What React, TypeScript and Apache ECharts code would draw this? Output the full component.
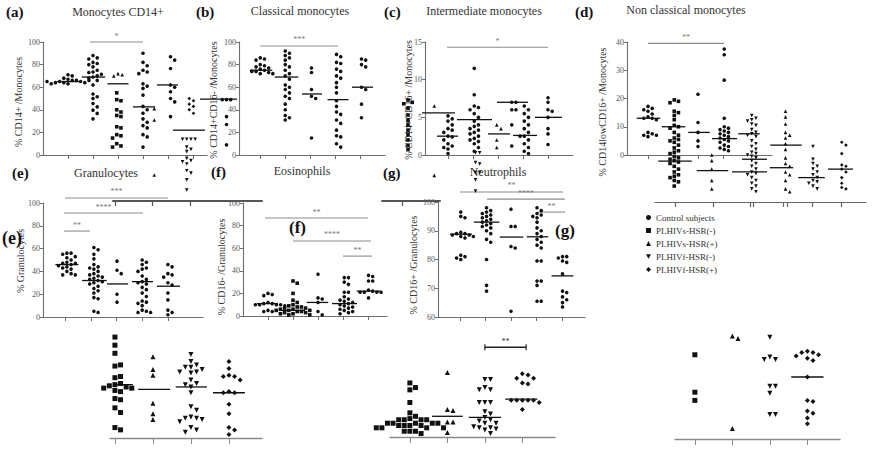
import React, { useEffect, useRef } from 'react';
import * as echarts from 'echarts';

const GROUPS = ['Control subjects', 'PLHIVs-HSR(-)', 'PLHIVs-HSR(+)', 'PLHIVf-HSR(-)', 'PLHIVf-HSR(+)'];
const TITLES = ['Monocytes CD14+', 'Classical monocytes', 'Intermediate monocytes', 'Non classical monocytes', 'Granulocytes', 'Eosinophils', 'Neutrophils'];
const Y_NAMES = ['% CD14+ /Monocytes', '% CD14+CD16- /Monocytes', '% CD14+CD16+ /Monocytes', '% CD14lowCD16+ /Monocytes', '% Granulocytes', '% CD16- /Granulocytes', '% CD16+ /Granulocytes'];
const LETTERS = ['(a)', '(b)', '(c)', '(d)', '(e)', '(f)', '(g)'];

// ---- (a) Monocytes CD14+
const aCtrl = [71, 70, 68, 67, 66, 66, 65, 65, 64, 64, 64, 63, 63, 66, 65];
const aSNeg = [88, 86, 85, 82, 81, 80, 78, 75, 73.5, 73, 71.5, 70, 69, 68, 66, 62, 54, 51.5, 50, 45.6, 42.6, 39.7, 36.8, 32];
const aSPosTri = [72, 71, 70];
const aSPos = [55, 49, 48, 40, 38, 35, 34, 25, 24, 18, 17, 15, 10, 8, 7];
const aFNeg = [90, 82, 79, 75, 73.5, 72, 63, 61, 59, 53, 43, 40, 37, 32, 29, 26, 24, 18, 16, 7];
const aFNegTri = [41, 31, -17.7];
const aFPos = [87, 84, 76.5, 62, 60, 56, 50, 47, 34];
const aExtraDia = [50, 48, 45, 43, 40, 37];
const aExtraInv = [14, 14, 14, 14, 7, 5, 3, -3, -5, -6, -8, -14, -16, -22, -31];
const aMedians = [[1, 65, 0.45], [2.02, 69, 0.47], [3, 63, 0.42], [4.04, 42.6, 0.44], [4.98, 62, 0.42], [5.84, 22, 0.64]];
const aSig = [[1.88, 4.0, 100, '*']];

// ---- (b) Classical monocytes
const bCtrl = [86, 85, 84, 80, 79, 78, 77, 76, 75, 74, 74, 73, 72, 72];
const bSNeg = [92, 90, 88, 86, 84, 80, 78, 75, 72, 70, 67, 62, 60, 58, 55, 52, 50, 45, 40, 35, 33, 31];
const bSPos = [77, 73, 58, 52, 50, 15];
const bFNeg = [89, 87, 82, 81, 76, 74, 70, 68, 64, 60, 55, 48, 43, 38, 36, 31, 28, 22, 17, 16, 10, 7];
const bFPos = [85, 84, 80, 78, 60, 58, 45, 33];
const bExtra = [49, 49, 49, 34, 27, 9];
const bMedians = [[1.03, 75, 0.45], [2.05, 69, 0.47], [3.07, 54, 0.4], [4.11, 49, 0.42], [5.09, 60, 0.42], [-0.67, 49.5, 0.74]];
const bSig = [[1, 4.11, 96.5, '***']];

// ---- (c) Intermediate monocytes
const cCtrl = [5.2, 4.8, 4.5, 4.0, 3.5, 3.3, 3.0, 2.5, 2.4, 2.0, 1.5, 1.2, 1.0, 0.8, 0.2];
const cCtrlTri = [6.5, -2.7];
const cSNeg = [11.5, 8, 6.5, 6.3, 6.0, 5.5, 5, 4.5, 4, 3.8, 3.5, 3.3, 3, 2.8, 2.5, 2.2, 2, 1.8, 1.5, 1, 0.5];
const cSNegInv = [0.3, 0.3, -1.0, -1.2, -2.3, -2.3, -3.3, -4.8];
const cSPos = [4.0, 3.5, 2.0, 1.0];
const cSPos2 = [7.0, 7.0, 6.0, 6.0, 4.0, 1.2];
const cFNeg = [6.5, 6.0, 5.5, 5, 4.5, 4, 3.5, 3, 2.5, 2.5, 2, 1.5, 1, 0.5, 0.2];
const cFPos = [7.6, 7.0, 6.0, 5.8, 5.0, 3.5, 2.8, 1.4];
const cExtra = [7.3, 7.0, 6.8, 6.2, 5.3, 4.6, 4.0, 3.3, 2.7, 2.0, 1.3, 0.7];
const cMedians = [[0.62, 5.6, 0.66], [0.98, 2.5, 0.42], [2.06, 4.7, 0.7], [3.04, 2.8, 0.44], [3.58, 7.0, 0.62], [4.08, 2.6, 0.48], [5.02, 5.0, 0.54]];
const cSig = [[0.96, 5.0, 14.3, '*']];

// ---- (d) Non classical monocytes
const dCtrl = [17.2, 16.5, 16, 15.5, 14.5, 13.5, 13, 13, 12.5, 8, 7.5, 7, 7, 6.5];
const dSNeg = [19.5, 19, 18.5, 15.5, 15, 14, 12.5, 10.5, 10, 9.5, 8, 7, 6, 5.5, 5, 4.5, 3.5, 2.5, 1.5, 1, 0.5, -0.5, -1, -1.5, -2, -2.5, -3, -4, -5, -6, -7, -7.5, -8, -9, -9.5, -11];
const dSPos = [21.5, 11.5, 8, 5, 3];
const dSPosTri = [0, -2, -5, -9, -12];
const dFNeg = [37.5, 35.5, 26.5, 13, 10, 9.5, 9, 8.5, 8, 7.5, 7, 6.5, 6, 5.5, 5, 4.5, 3.5, 3, 2.5, 2, 1.5];
const dCol5 = [14, 13, 12.5, 12, 11, 10.5, 9, 8, 7.5, 7, 6.5, 5, 4, 3, 2, 1, 0.5, 0, -0.5, -1, -2, -3, -4, -5, -6, -6.5, -7, -8, -9, -10, -11, -12, -13];
const dCol6 = [15.5, 13.5, 11, 8, 7, 6, 4, 2, -1, -3, -4, -6, -7, -9, -12, -13];
const dCol7 = [3, -1.5, -3, -4, -5, -6, -7, -8, -9, -9.5, -10, -11, -12];
const dCol8 = [4.5, 3.5, 0.5, -3.5, -4, -5, -6, -8, -10, -11.5, -12];
const dMedians = [[1.02, 13, 0.47], [2.02, 10, 0.47], [2.08, -2.2, 0.67], [3.04, 8, 0.43], [3.58, -5.5, 0.63], [4.06, 5.8, 0.5], [5.04, 7.5, 0.43], [5.26, -1.5, 0.5], [5.06, -6, 0.7], [6.52, 3.5, 0.63], [6.34, -4.5, 0.47], [7.54, -8, 0.53], [8.7, -5, 0.5]];
const dSig = [[1.0, 4.04, 39.5, '**']];

// ---- (e) Granulocytes
const eCtrl = [56, 56, 55, 53, 52, 50, 48, 47, 47, 46, 45, 44, 43, 42, 40, 38, 37, 37];
const eSNeg = [61, 59, 55, 51, 46, 44, 43, 42, 40, 38, 37, 36, 35, 34, 33, 32, 31, 30, 29, 27, 25, 23, 21, 17, 16, 5, 4];
const eSPos = [49, 41, 38, 20, 13];
const eFNeg = [50, 48, 46, 43, 42, 40, 36, 33, 31, 30, 29, 26, 24, 21, 18, 14, 13, 12, 10, 6, 5, 4, 4];
const eFPos = [46, 44, 38, 37, 35, 30, 28, 21, 15, 6, 4, 2];
const eMedians = [[1.07, 46, 0.45], [2.14, 32, 0.48], [3.04, 29, 0.41], [4.01, 31, 0.41], [5.02, 27, 0.45]];
const eSig = [[1.0, 5.0, 104.4, '***'], [0.96, 4.03, 91.2, '****'], [0.96, 1.97, 75.4, '**']];

// ---- (f) Eosinophils
const fCtrl = [20, 19, 18, 12, 11, 11, 10, 10, 10, 10, 9, 5, 4, 4];
const fSNeg = [31, 29, 20, 14, 12, 10, 9, 8, 8, 7, 7, 6, 6, 5, 5, 5, 4, 4, 3, 3, 2, 2, 1, 1];
const fSPos = [37, 16, 15, 12, 4, 1];
const fFNeg = [34, 34, 30, 28, 21, 21, 17, 15, 14, 13, 12, 11, 10, 9, 8, 7, 6, 5, 4, 3, 2];
const fFPos = [36, 35, 31, 31, 23, 22, 21, 21, 21, 21, 16];
const fMedians = [[0.98, 11, 0.42], [1.98, 5, 0.5], [2.98, 12, 0.43], [4.06, 11, 0.5], [5.02, 22, 0.47]];
const fSig = [[0.88, 5.0, 86.7, '**'], [2.0, 5.12, 66.4, '****'], [4.0, 5.16, 53, '**']];

// ---- (g) Neutrophils
const gCtrl = [96.5, 95, 94.5, 89.5, 89, 89, 88.5, 88.5, 88, 88, 87.5, 81.5, 81, 80.5, 80];
const gSNeg = [98, 97, 96.5, 96, 95.5, 95, 94.5, 94, 93.5, 93, 92.5, 92, 91.5, 91, 90, 89, 87, 86, 80, 71, 69];
const gSPos = [97.5, 91.5, 91.5, 84.5, 84, 62];
const gFNeg = [98, 97, 96, 95.5, 95, 94.5, 93, 91, 90, 89, 88, 87, 86, 85, 84, 79.5, 79.5, 72.5, 72.5, 71, 65.5, 65.5];
const gFPos = [81, 81, 80.5, 79.5, 79, 75, 69, 68.5, 67, 66, 65, 63.5];
const gMedians = [[1.04, 88.8, 0.43], [2.04, 93, 0.5], [3.02, 87.8, 0.46], [4.04, 87.9, 0.42], [5.02, 74.3, 0.43]];
const gSig = [[1.0, 5.04, 103.5, '**'], [2.06, 5.12, 101, '****'], [4.06, 5.12, 96.5, '**']];

// ---- bottom-left (unlabelled)
const blSNeg = [87, 80, 73, 62, 63, 52, 53, 46, 47, 45, 44, 43, 43, 41, 40, 34, 33, 26, 22, 9, 7];
const blSPos = [70, 59, 54, 30, 21, 16];
const blFNeg = [72, 66, 63, 61, 61, 59, 57, 57, 56, 50, 47, 46, 44, 39, 27, 24, 18, 17, 17, 16, 14, 9, 7, 5];
const blFPos = [66, 60, 54, 53, 53, 50, 40, 39, 39, 29, 21, 9, 7, 3];
const blMedians = [[1.21, 46, 0.26], [2.03, 42, 0.42], [3.01, 44, 0.41], [4.0, 39, 0.42]];

// ---- bottom-middle (unlabelled)
const bmSNeg = [47, 43, 41, 30, 21, 18, 16, 15, 15, 15, 15, 12, 12, 12, 12, 12, 10, 10, 10, 10, 8, 8, 8, 8, 5, 5, 5, 3];
const bmSPos = [56, 24, 23, 13, 13, 4];
const bmFNeg = [50, 50, 43, 41, 41, 30, 30, 30, 22, 20, 17, 15, 14, 12, 12, 8, 8, 6, 3, 7, 9];
const bmFPos = [55, 54, 51, 51, 47, 46, 32, 32, 32, 32, 32, 30, 24];
const bmMedians = [[2.0, 18, 0.41], [3.0, 17, 0.43], [3.97, 33, 0.43]];
const bmSig = [[3.0, 4.1, 78, '**', 1]];

// ---- bottom-right (unlabelled)
const brSNeg = [72, 40, 33];
const brSPos = [88, 86, 9];
const brFNeg = [87, 70, 68, 68, 45, 45, 39, 21, 21];
const brFPos = [75, 74, 74, 72, 71, 69, 67, 53, 33, 32, 24, 22, 18, 13];
const brMedians = [[4.0, 53, 0.43]];

const SYM: Record<string, string> = {
  c: 'circle',
  s: 'rect',
  t: 'triangle',
  i: 'path://M0,0L10,0L5,9Z',
  d: 'diamond',
};
const LEG_ICONS = ['circle', 'rect', 'triangle', 'path://M0,0L10,0L5,9Z', 'diamond'];
const SERIF = 'Liberation Serif';

type Col = { x: number; v: number[]; s: string; g: number };
type Panel = {
  left: number; top: number; w: number; h: number;
  xMin: number; unit: number;
  yMin: number; yMax: number; yInt?: number; showY: boolean;
  ticks: number[]; cols: Col[]; med: number[][]; sig: any[]; size: number;
  axisColor?: string; axisWidth?: number; tickLen?: number;
};

const PANELS: Panel[] = [
  { left: 43, top: 42, w: 164, h: 113, xMin: 0, unit: 25, yMin: 0, yMax: 100, yInt: 20, showY: true, ticks: [1, 2, 3, 4, 5, 6], size: 3.6,
    cols: [
      { x: 1, v: aCtrl, s: 'c', g: 0 }, { x: 2, v: aSNeg, s: 'c', g: 1 }, { x: 3, v: aSPosTri, s: 't', g: 2 },
      { x: 2.95, v: aSPos, s: 's', g: 2 }, { x: 4, v: aFNeg, s: 'c', g: 3 }, { x: 4.45, v: aFNegTri, s: 't', g: -1 },
      { x: 5.1, v: aFPos, s: 'c', g: 4 }, { x: 5.85, v: aExtraDia, s: 'd', g: -1 }, { x: 5.75, v: aExtraInv, s: 'i', g: -1 },
    ], med: aMedians, sig: aSig },
  { left: 239, top: 42, w: 146, h: 113, xMin: 0.15, unit: 25, yMin: 0, yMax: 100, yInt: 20, showY: true, ticks: [1, 2, 3, 4, 5], size: 3.6,
    cols: [
      { x: 1, v: bCtrl, s: 'c', g: 0 }, { x: 2, v: bSNeg, s: 'c', g: 1 }, { x: 3.05, v: bSPos, s: 'c', g: 2 },
      { x: 4.05, v: bFNeg, s: 'c', g: 3 }, { x: 5.05, v: bFPos, s: 'c', g: 4 }, { x: -0.35, v: bExtra, s: 'c', g: -1 },
    ], med: bMedians, sig: bSig },
  { left: 425, top: 42, w: 148, h: 113, xMin: 0.08, unit: 25, yMin: 0, yMax: 15, yInt: 5, showY: true, ticks: [1, 2, 3, 4, 5], size: 3.6,
    cols: [
      { x: 1, v: cCtrl, s: 'c', g: 0 }, { x: 0.45, v: cCtrlTri, s: 't', g: -1 }, { x: 2.05, v: cSNeg, s: 'c', g: 1 },
      { x: 2.1, v: cSNegInv, s: 'i', g: -1 }, { x: 2.95, v: cSPos, s: 't', g: 2 }, { x: 3.55, v: cSPos2, s: 'c', g: 2 },
      { x: 4.05, v: cFNeg, s: 'c', g: 3 }, { x: 5.0, v: cFPos, s: 'c', g: 4 }, { x: -0.6, v: cExtra, s: 's', g: -1 },
    ], med: cMedians, sig: cSig },
  { left: 627, top: 42, w: 145, h: 113, xMin: 0.16, unit: 25, yMin: 0, yMax: 40, yInt: 10, showY: true, ticks: [1, 2, 3, 4], size: 3.6,
    cols: [
      { x: 1, v: dCtrl, s: 'c', g: 0 }, { x: 2.05, v: dSNeg, s: 's', g: 1 }, { x: 3.0, v: dSPos, s: 'c', g: 2 },
      { x: 3.55, v: dSPosTri, s: 't', g: 2 }, { x: 4.05, v: dFNeg, s: 'c', g: 3 }, { x: 5.15, v: dCol5, s: 'i', g: -1 },
      { x: 6.5, v: dCol6, s: 't', g: -1 }, { x: 7.6, v: dCol7, s: 'i', g: -1 }, { x: 8.75, v: dCol8, s: 'd', g: -1 },
    ], med: dMedians, sig: dSig },
  { left: 43, top: 203, w: 160, h: 114, xMin: 0.14, unit: 25.7, yMin: 0, yMax: 100, yInt: 20, showY: true, ticks: [1, 2, 3, 4, 5], size: 3.6,
    cols: [
      { x: 1.07, v: eCtrl, s: 'c', g: 0 }, { x: 2.12, v: eSNeg, s: 'c', g: 1 }, { x: 3.02, v: eSPos, s: 'c', g: 2 },
      { x: 4.0, v: eFNeg, s: 'c', g: 3 }, { x: 5.0, v: eFPos, s: 'c', g: 4 },
    ], med: eMedians, sig: eSig },
  { left: 243, top: 203, w: 144, h: 113, xMin: 0, unit: 25, yMin: 0, yMax: 100, yInt: 20, showY: true, ticks: [1, 2, 3, 4, 5], size: 3.6,
    cols: [
      { x: 1, v: fCtrl, s: 'c', g: 0 }, { x: 2, v: fSNeg, s: 's', g: 1 }, { x: 3, v: fSPos, s: 'c', g: 2 },
      { x: 4.05, v: fFNeg, s: 'c', g: 3 }, { x: 5.02, v: fFPos, s: 'c', g: 4 },
    ], med: fMedians, sig: fSig },
  { left: 438, top: 202, w: 147, h: 115, xMin: 0.137, unit: 25.5, yMin: 60, yMax: 100, yInt: 10, showY: true, ticks: [1, 2, 3, 4, 5], size: 3.6,
    cols: [
      { x: 1.03, v: gCtrl, s: 'c', g: 0 }, { x: 2.04, v: gSNeg, s: 'c', g: 1 }, { x: 3.0, v: gSPos, s: 'c', g: 2 },
      { x: 4.02, v: gFNeg, s: 'c', g: 3 }, { x: 5.02, v: gFPos, s: 'c', g: 4 },
    ], med: gMedians, sig: gSig },
  { left: 110, top: 322, w: 152, h: 116, xMin: 0.87, unit: 38, yMin: 0, yMax: 100, showY: false, ticks: [1, 2, 3, 4], size: 5, axisColor: '#8a8a8a', axisWidth: 1.4, tickLen: 6,
    cols: [
      { x: 1, v: blSNeg, s: 's', g: 1 }, { x: 2, v: blSPos, s: 't', g: 2 }, { x: 3, v: blFNeg, s: 'i', g: 3 }, { x: 4, v: blFPos, s: 'd', g: 4 },
    ], med: blMedians, sig: [] },
  { left: 390, top: 322, w: 165, h: 115, xMin: 0.47, unit: 37.5, yMin: 0, yMax: 100, showY: false, ticks: [1, 2, 3, 4], size: 5, axisColor: '#8a8a8a', axisWidth: 1.4, tickLen: 6,
    cols: [
      { x: 1, v: bmSNeg, s: 's', g: 1 }, { x: 2, v: bmSPos, s: 't', g: 2 }, { x: 3, v: bmFNeg, s: 'i', g: 3 }, { x: 4, v: bmFPos, s: 'd', g: 4 },
    ], med: bmMedians, sig: bmSig },
  { left: 675, top: 322, w: 165, h: 117, xMin: 0.47, unit: 37.5, yMin: 0, yMax: 100, showY: false, ticks: [1, 2, 3, 4], size: 5, axisColor: '#8a8a8a', axisWidth: 1.4, tickLen: 6,
    cols: [
      { x: 1, v: brSNeg, s: 's', g: 1 }, { x: 2, v: brSPos, s: 't', g: 2 }, { x: 3, v: brFNeg, s: 'i', g: 3 }, { x: 4, v: brFPos, s: 'd', g: 4 },
    ], med: brMedians, sig: [] },
];

// stray axis lines of the overlapping panels
const STRAY = [
  { left: 655, top: 150, w: 211, h: 52, ticks: [20, 58, 95, 98, 128, 132, 157, 186], color: '#666', width: 1.2 },
  { left: 113, top: 150, w: 149, h: 51, ticks: [2, 39, 77], color: '#555', width: 2 },
  { left: 382, top: 150, w: 58, h: 51, ticks: [20], color: '#555', width: 2 },
];

function swarm(x: number, vals: number[], xPx: number, yPx: number, d: number) {
  const placed: number[][] = [];
  const out: number[][] = [];
  for (const v of vals) {
    const py = v * yPx;
    let off = 0;
    for (let i = 0; i < 60; i++) {
      const k = i === 0 ? 0 : i % 2 ? (i + 1) / 2 : -i / 2;
      const px = k * d;
      const hit = placed.some((q) => Math.abs(q[0] - px) < d - 0.01 && Math.abs(q[1] - py) < d - 0.01);
      if (!hit) { off = px; break; }
    }
    placed.push([off, py]);
    out.push([x + off / xPx, v]);
  }
  return out;
}

function buildOption() {
  const grid: any[] = [];
  const xAxis: any[] = [];
  const yAxis: any[] = [];
  const series: any[] = [];

  PANELS.forEach((p, i) => {
    const ac = p.axisColor || '#6e6e6e';
    const aw = p.axisWidth || 1.1;
    grid.push({ left: p.left, top: p.top, width: p.w, height: p.h });
    xAxis.push({
      gridIndex: i, type: 'value', min: p.xMin, max: p.xMin + p.w / p.unit,
      axisLine: { show: true, onZero: false, lineStyle: { color: ac, width: aw } },
      axisTick: { show: true, customValues: p.ticks, length: p.tickLen || 4, lineStyle: { color: ac, width: 1 } },
      axisLabel: { show: false }, splitLine: { show: false },
    });
    yAxis.push({
      gridIndex: i, type: 'value', min: p.yMin, max: p.yMax, interval: p.yInt, show: p.showY,
      axisLine: { show: true, onZero: false, lineStyle: { color: ac, width: aw } },
      axisTick: { show: true, length: 3, lineStyle: { color: ac } },
      axisLabel: { fontSize: 8, color: '#555', margin: 3, fontFamily: SERIF },
      splitLine: { show: false },
    });
    const yPx = p.h / (p.yMax - p.yMin);
    p.cols.forEach((c) => {
      series.push({
        type: 'scatter', name: c.g >= 0 ? GROUPS[c.g] : 'other', xAxisIndex: i, yAxisIndex: i,
        symbol: SYM[c.s], symbolSize: p.size, clip: false, silent: true,
        itemStyle: { color: '#111', opacity: 1 },
        data: swarm(c.x, c.v, p.unit, yPx, p.size + 0.6),
      });
    });
    series.push({
      type: 'custom', xAxisIndex: i, yAxisIndex: i, clip: false, silent: true,
      data: p.med.map((m) => [m[0], m[1], m[2]]),
      renderItem: (params: any, api: any) => {
        const xc = api.value(0), y = api.value(1), hw = api.value(2);
        const a = api.coord([xc - hw, y]);
        const b = api.coord([xc + hw, y]);
        return { type: 'line', shape: { x1: a[0], y1: a[1], x2: b[0], y2: b[1] }, style: { stroke: '#111', lineWidth: 1.3 } };
      },
    });
    if (p.sig.length) {
      series.push({
        type: 'custom', xAxisIndex: i, yAxisIndex: i, clip: false, silent: true,
        data: p.sig.map((s) => [s[0], s[2]]),
        renderItem: (params: any, api: any) => {
          const s = p.sig[params.dataIndex];
          const a = api.coord([s[0], s[2]]);
          const b = api.coord([s[1], s[2]]);
          const strong = !!s[4];
          const col = strong ? '#222' : '#8c8c8c';
          const children: any[] = [
            { type: 'line', shape: { x1: a[0], y1: a[1], x2: b[0], y2: b[1] }, style: { stroke: col, lineWidth: strong ? 1.6 : 1.1 } },
            { type: 'text', x: (a[0] + b[0]) / 2, y: a[1] - 2, style: { text: s[3], fill: strong ? '#333' : '#777', fontSize: 8, fontFamily: SERIF, align: 'center', verticalAlign: 'bottom', textAlign: 'center', textVerticalAlign: 'bottom' } },
          ];
          if (strong) {
            children.push({ type: 'line', shape: { x1: a[0], y1: a[1] - 3, x2: a[0], y2: a[1] + 3 }, style: { stroke: col, lineWidth: 1.2 } });
            children.push({ type: 'line', shape: { x1: b[0], y1: b[1] - 3, x2: b[0], y2: b[1] + 3 }, style: { stroke: col, lineWidth: 1.2 } });
          }
          return { type: 'group', children };
        },
      });
    }
  });

  STRAY.forEach((s) => {
    const gi = grid.length;
    grid.push({ left: s.left, top: s.top, width: s.w, height: s.h });
    xAxis.push({
      gridIndex: gi, type: 'value', min: 0, max: s.w,
      axisLine: { show: true, onZero: false, lineStyle: { color: s.color, width: s.width } },
      axisTick: { show: true, customValues: s.ticks, length: 5, lineStyle: { color: s.color, width: 1.2 } },
      axisLabel: { show: false }, splitLine: { show: false },
    });
    yAxis.push({ gridIndex: gi, type: 'value', min: 0, max: 1, show: false, splitLine: { show: false } });
  });

  const txt = (text: string, x: number, y: number, size: number, weight: string, align = 'left', fill = '#333', rotation = 0) => ({
    type: 'text', x, y, rotation, silent: true,
    style: { text, fontSize: size, fontWeight: weight, fontFamily: SERIF, fill, align, verticalAlign: 'middle', textAlign: align, textVerticalAlign: 'middle' },
  });
  const letterPos = [[6, 12], [196, 12], [384, 12], [575, 12], [12, 173], [211, 172], [383, 173]];
  const titlePos = [[118, 12], [300, 11], [484, 11], [686, 10], [106, 173], [302, 171], [498, 172]];
  const yNamePos = [[18, 102], [213, 100], [408, 100], [602, 112], [20, 261], [221, 267], [413, 265]];
  const graphic: any[] = [];
  LETTERS.forEach((l, i) => graphic.push(txt(l, letterPos[i][0], letterPos[i][1], 15, 'bold', 'left', '#111')));
  TITLES.forEach((t, i) => graphic.push(txt(t, titlePos[i][0], titlePos[i][1], 12, 'normal', 'center', '#333')));
  Y_NAMES.forEach((t, i) => graphic.push(txt(t, yNamePos[i][0], yNamePos[i][1], 10, 'normal', 'center', '#333', Math.PI / 2)));
  graphic.push(txt('(e)', 2, 238, 18, 'bold', 'left', '#111'));
  graphic.push(txt('(f)', 289, 227, 17, 'bold', 'left', '#111'));
  graphic.push(txt('(g)', 555, 230, 17, 'bold', 'left', '#111'));

  return {
    animation: false,
    backgroundColor: '#ffffff',
    textStyle: { fontFamily: SERIF },
    grid, xAxis, yAxis, series, graphic,
    legend: {
      data: GROUPS.map((n, i) => ({ name: n, icon: LEG_ICONS[i] })),
      orient: 'vertical', left: 646, top: 213, padding: 0,
      itemWidth: 5, itemHeight: 5, itemGap: 4, selectedMode: false,
      textStyle: { fontSize: 9, lineHeight: 9, fontFamily: SERIF, color: '#333' },
    },
  };
}

export default function App() {
  const ref = useRef<HTMLDivElement>(null);
  useEffect(() => {
    if (!ref.current) return;
    const chart = echarts.init(ref.current, null, { renderer: 'svg' });
    chart.setOption(buildOption() as any);
    return () => chart.dispose();
  }, []);
  return <div ref={ref} style={{ position: 'absolute', left: 0, top: 0, width: 872, height: 452, background: '#fff' }} />;
}
